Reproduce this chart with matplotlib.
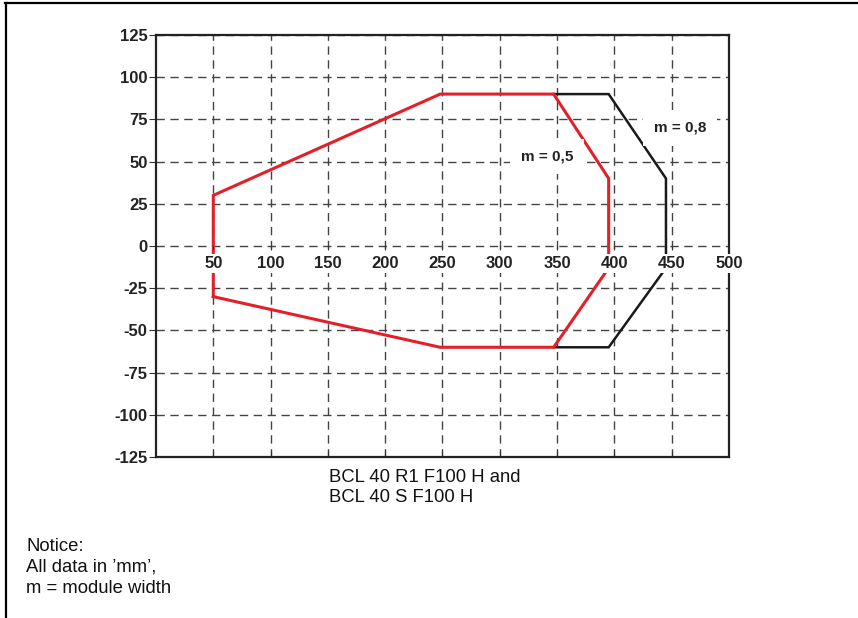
import numpy as np
import matplotlib
matplotlib.use("Agg")
import matplotlib.pyplot as plt
from matplotlib.lines import Line2D

plt.rcParams['font.family'] = ['Liberation Sans', 'DejaVu Sans']
plt.rcParams['axes.unicode_minus'] = False

# Reading field outlines (mm)
m05_x = [50, 50, 248, 347, 395, 395, 347, 248, 50]
m05_y = [-30, 30, 90, 90, 40, -13, -60, -60, -30]
m08_x = [347, 395, 445, 445, 395, 347]
m08_y = [90, 90, 40, -13, -60, -60]

grid_x = [50, 100, 150, 200, 250, 300, 350, 400, 450]
label_x = [50, 100, 150, 200, 250, 300, 350, 400, 450, 500]
ticks_y = [-125, -100, -75, -50, -25, 0, 25, 50, 75, 100, 125]

W, H = 858, 618
fig = plt.figure(figsize=(W / 100, H / 100), dpi=100)

# Page frame (left and top edge only)
fig.add_artist(Line2D([6 / W, 6 / W], [0, 1 - 3 / H], transform=fig.transFigure,
                      color='black', lw=1.6))
fig.add_artist(Line2D([5 / W, 1], [1 - 3 / H, 1 - 3 / H], transform=fig.transFigure,
                      color='black', lw=1.6))

ax = fig.add_axes([156 / W, 1 - 457 / H, (729 - 156) / W, (457 - 35) / H])
ax.set_xlim(0, 500)
ax.set_ylim(-125, 125)

ax.plot(m08_x, m08_y, color='#1a1a1a', lw=1.8, solid_joinstyle='miter')
ax.plot(m05_x, m05_y, color='#e3202a', lw=2.2, solid_joinstyle='miter')

ax.set_xticks(grid_x)
ax.set_yticks(ticks_y)
ax.grid(True, ls=(0, (6, 4)), color='#444444', lw=1.0)
ax.tick_params(axis='x', direction='in', length=4, labelbottom=False, color='#333')
ax.tick_params(axis='y', direction='out', length=5, pad=1, labelsize=12, color='#333')
for lbl in ax.get_yticklabels():
    lbl.set_fontweight('bold')
    lbl.set_color('#222')
for sp in ax.spines.values():
    sp.set_linewidth(1.6)
    sp.set_color('#222')

# x axis through y = 0
sec = ax.secondary_xaxis(0.5)
sec.set_xticks(label_x)
sec.tick_params(top=False, labeltop=False, bottom=True, labelbottom=True,
                direction='out', length=3, pad=4, labelsize=12, color='#333')
sec.spines['bottom'].set_linewidth(1.2)
sec.spines['bottom'].set_color('#333')
sec.spines['top'].set_visible(False)
sec.set_zorder(3)
for lbl in sec.get_xticklabels():
    lbl.set_fontweight('bold')
    lbl.set_color('#222')
    lbl.set_bbox(dict(fc='white', ec='none', pad=1.5))

box = dict(fc='white', ec='none', boxstyle='square,pad=0.7')
ax.text(341, 53, 'm = 0,5', ha='center', va='center', fontsize=11,
        fontweight='bold', color='#222', bbox=box, zorder=4)
ax.text(457, 70, 'm = 0,8', ha='center', va='center', fontsize=11,
        fontweight='bold', color='#222', bbox=box, zorder=4)

# Captions
model_lines = ['BCL 40 R1 F100 H and', 'BCL 40 S F100 H']
for i, s in enumerate(model_lines):
    fig.text(329 / W, 1 - (482 + 20 * i) / H, s, fontsize=13.3, va='baseline', color='#111')

note_lines = ['Notice:', "All data in \u2019mm\u2019,", 'm = module width']
for i, s in enumerate(note_lines):
    fig.text(26 / W, 1 - (551 + 21 * i) / H, s, fontsize=13.3, va='baseline', color='#111')

fig.savefig('out.png', dpi=100)
